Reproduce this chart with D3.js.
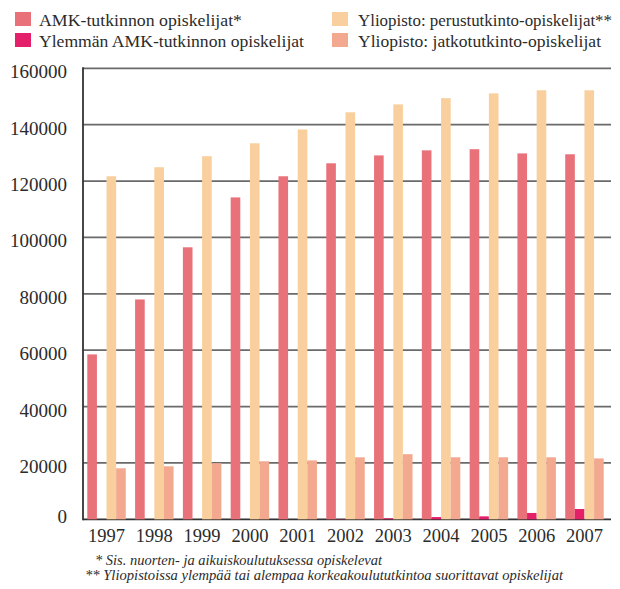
<!DOCTYPE html>
<html>
    <head>
        <script src="https://d3js.org/d3.v7.min.js"></script>
        <style>
            body { margin: 0; background: #fff; }
            svg { display: block; }
            text { font-family: "Liberation Serif", "Times New Roman", "DejaVu Serif", serif; fill: #2b2b2b; }
        </style>
    </head>
    <body>
        <div class="chart"></div>
        <script>
            // data
            let years = ["1997", "1998", "1999", "2000", "2001", "2002", "2003", "2004", "2005", "2006", "2007"];
            let amk = [58500, 78000, 96500, 114200, 121700, 126300, 129100, 130900, 131300, 129800, 129500];
            let ylempiAmk = [0, 0, 0, 0, 0, 100, 350, 800, 1050, 2250, 3650];
            let perus = [121700, 124900, 128800, 133400, 138300, 144400, 147200, 149400, 151100, 152200, 152200];
            let jatko = [18100, 18800, 19900, 20600, 20900, 22000, 23100, 22000, 22000, 22000, 21600];
            let yTicks = [0, 20000, 40000, 60000, 80000, 100000, 120000, 140000, 160000];

            let seriesNames = [
                "AMK-tutkinnon opiskelijat*",
                "Ylemmän AMK-tutkinnon opiskelijat",
                "Yliopisto: perustutkinto-opiskelijat**",
                "Yliopisto: jatkotutkinto-opiskelijat"
            ];
            let colors = ["#e9727a", "#e5206a", "#f8cf9d", "#f2a98f"];
            let seriesValues = [amk, ylempiAmk, perus, jatko];

            let svg = d3.select("div.chart").append("svg")
                .attr("width", 620)
                .attr("height", 589);

            let plotLeft = 83, plotRight = 611, plotTop = 68.3, plotBottom = 519.3;

            let y = d3.scaleLinear()
                .domain([0, 160000])
                .range([plotBottom, plotTop]);

            let x0 = d3.scaleBand()
                .domain(years)
                .range([plotLeft, 608])
                .paddingInner(0.195)
                .paddingOuter(0.09);

            let x1 = d3.scaleBand()
                .domain(d3.range(4))
                .range([0, x0.bandwidth()]);

            // gridlines
            svg.append("g")
                .selectAll("line")
                .data(yTicks)
                .join("line")
                .attr("x1", plotLeft)
                .attr("x2", plotRight)
                .attr("y1", d => y(d))
                .attr("y2", d => y(d))
                .attr("stroke", d => d === 0 ? "#333" : "#6a6a6a")
                .attr("stroke-width", 1.8);

            // y tick labels
            svg.append("g")
                .selectAll("text")
                .data(yTicks)
                .join("text")
                .attr("x", 67)
                .attr("y", d => y(d) + (d === 0 ? 4 : 10))
                .attr("text-anchor", "end")
                .attr("font-size", 19)
                .text(d => d);

            // bars
            let groups = svg.append("g")
                .selectAll("g")
                .data(years)
                .join("g")
                .attr("transform", d => `translate(${x0(d)},0)`);

            groups.selectAll("rect")
                .data((d, i) => seriesValues.map((s, k) => ({ k: k, v: s[i] })))
                .join("rect")
                .attr("x", d => x1(d.k))
                .attr("width", x1.bandwidth())
                .attr("y", d => y(d.v))
                .attr("height", d => plotBottom - y(d.v))
                .attr("fill", d => colors[d.k]);

            // vertical axis line
            svg.append("line")
                .attr("x1", plotLeft).attr("x2", plotLeft)
                .attr("y1", plotTop - 1).attr("y2", plotBottom + 1)
                .attr("stroke", "#333")
                .attr("stroke-width", 1.8);

            // year labels
            svg.append("g")
                .selectAll("text")
                .data(years)
                .join("text")
                .attr("x", d => x0(d) + x0.bandwidth() / 2)
                .attr("y", 542)
                .attr("text-anchor", "middle")
                .attr("font-size", 18.5)
                .text(d => d);

            // legend
            let legendPos = [[15, 12], [15, 33], [332, 12], [332, 33]];
            let legendWidths = [203, 265, 254, 243];
            let legend = svg.append("g")
                .selectAll("g")
                .data(seriesNames)
                .join("g")
                .attr("transform", (d, i) => `translate(${legendPos[i][0]},${legendPos[i][1]})`);
            legend.append("rect")
                .attr("width", 16)
                .attr("height", 14)
                .attr("fill", (d, i) => colors[i]);
            legend.append("text")
                .attr("x", (d, i) => i < 2 ? 24 : 26)
                .attr("y", 14)
                .attr("font-size", 16)
                .attr("textLength", (d, i) => legendWidths[i])
                .attr("lengthAdjust", "spacingAndGlyphs")
                .text(d => d);

            // footnotes
            svg.append("text")
                .attr("x", 95).attr("y", 565)
                .attr("font-size", 14)
                .attr("font-style", "italic")
                .attr("textLength", 287)
                .attr("lengthAdjust", "spacingAndGlyphs")
                .text("* Sis. nuorten- ja aikuiskoulutuksessa opiskelevat");
            svg.append("text")
                .attr("x", 85).attr("y", 580)
                .attr("font-size", 14)
                .attr("font-style", "italic")
                .attr("textLength", 478)
                .attr("lengthAdjust", "spacingAndGlyphs")
                .text("** Yliopistoissa ylempää tai alempaa korkeakoulututkintoa suorittavat opiskelijat");
        </script>
    </body>
</html>
